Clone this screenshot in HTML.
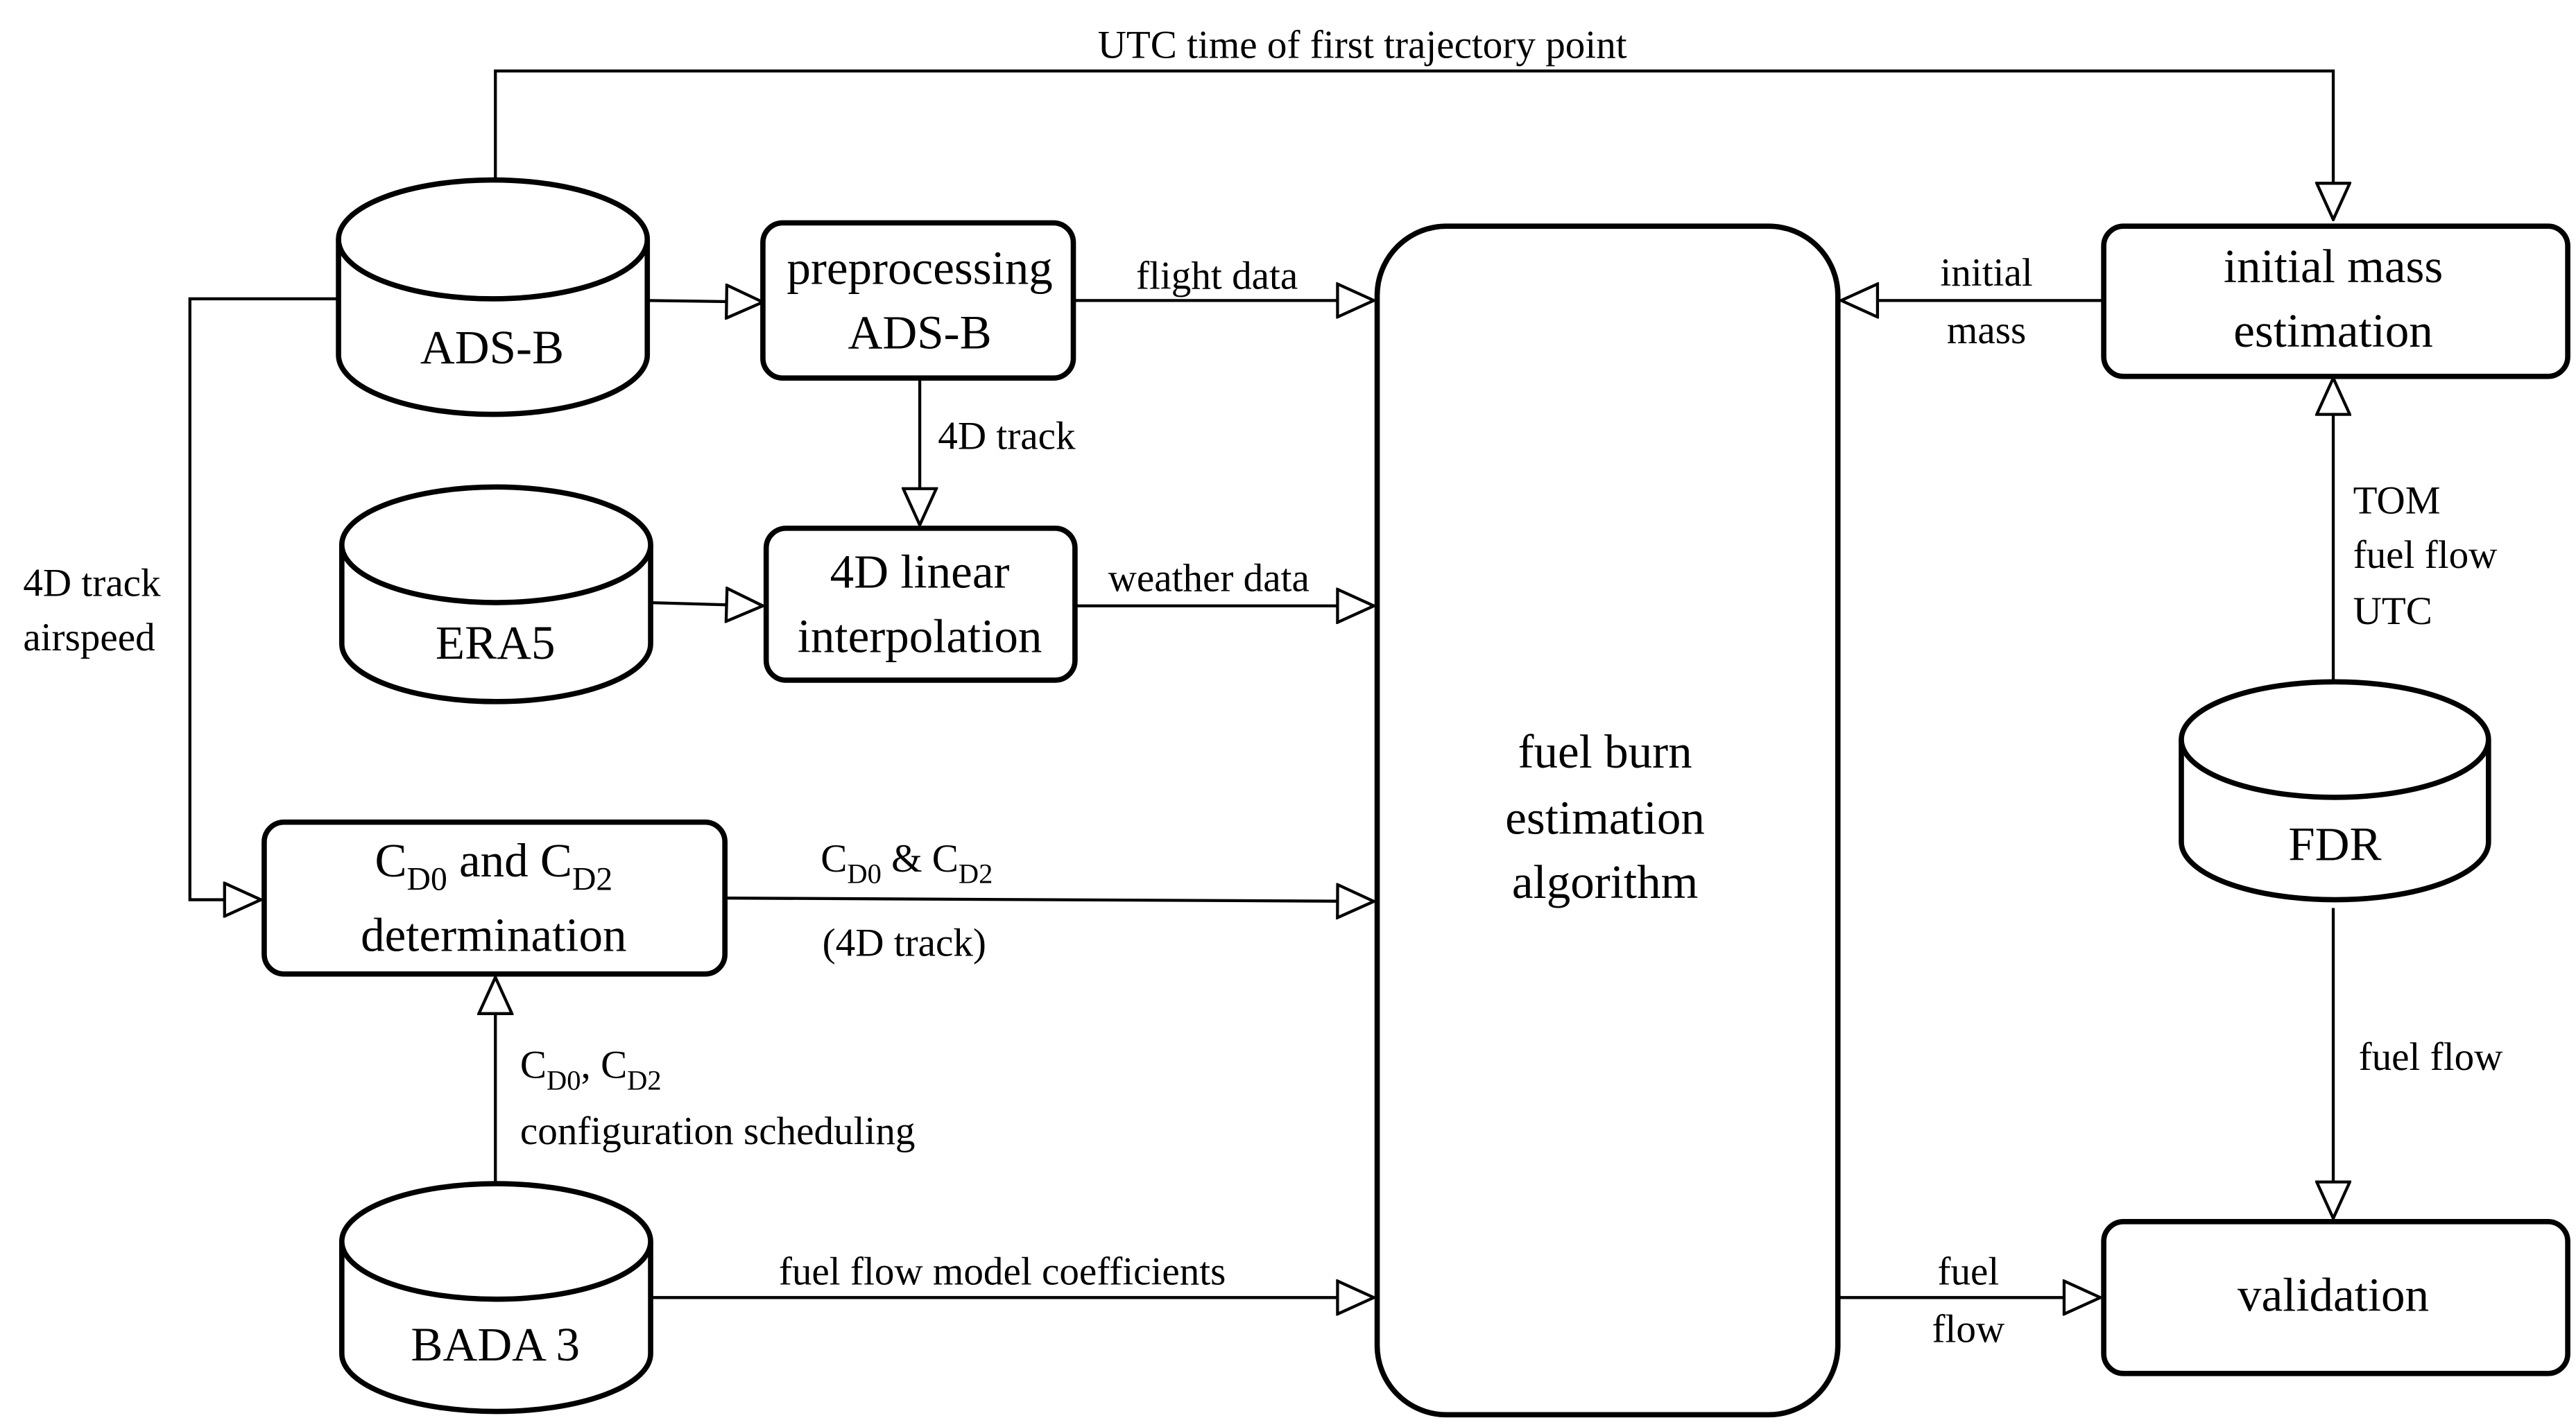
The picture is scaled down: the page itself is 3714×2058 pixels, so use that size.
<!DOCTYPE html>
<html><head><style>html,body{margin:0;padding:0;background:#fff}svg{display:block}svg text{font-family:"Liberation Serif","Times New Roman",serif}</style></head>
<body>
<svg width="3714" height="2058" viewBox="0 0 1560 864.4" xmlns="http://www.w3.org/2000/svg" style="font-family:'Liberation Serif',serif">
<defs>
<marker id="a" viewBox="0 0 24 22" refX="23" refY="11" markerWidth="24" markerHeight="22" markerUnits="userSpaceOnUse" orient="auto">
<path d="M1,1 L23,11 L1,21 Z" fill="#fff" stroke="#000" stroke-width="1.8"/>
</marker>
</defs>
<g fill="none" stroke="#000" stroke-width="1.8">
<path d="M300,108 V43 H1413 V133" marker-end="url(#a)"/>
<path d="M392,182 L462,183" marker-end="url(#a)"/>
<path d="M651,182 H832" marker-end="url(#a)"/>
<path d="M557,230 V318" marker-end="url(#a)"/>
<path d="M392,365 L462,367" marker-end="url(#a)"/>
<path d="M651,367 H832" marker-end="url(#a)"/>
<path d="M205,181 H115 V545 H158" marker-end="url(#a)"/>
<path d="M439,544 L832,546" marker-end="url(#a)"/>
<path d="M300,717 V592" marker-end="url(#a)"/>
<path d="M392,786 H832" marker-end="url(#a)"/>
<path d="M1274,182 H1115" marker-end="url(#a)"/>
<path d="M1413,412 V229" marker-end="url(#a)"/>
<path d="M1413,550 V738" marker-end="url(#a)"/>
<path d="M1113,786 H1272" marker-end="url(#a)"/>
</g>
<g fill="#fff" stroke="#000" stroke-width="3.2">
<rect x="462" y="135" width="188" height="94" rx="12"/>
<rect x="464" y="320" width="187" height="92" rx="12"/>
<rect x="160" y="498" width="279" height="92" rx="12"/>
<rect x="834" y="137" width="279" height="720" rx="42"/>
<rect x="1274" y="137" width="281" height="91" rx="12"/>
<rect x="1274" y="740" width="281" height="92" rx="12"/>
<path d="M205,145 V215 A93.5,36 0 0 0 392,215 V145"/><ellipse cx="298.5" cy="145" rx="93.5" ry="36"/>
<path d="M207,330 V390 A93.5,35 0 0 0 394,390 V330"/><ellipse cx="300.5" cy="330" rx="93.5" ry="35"/>
<path d="M207,752 V820 A93.5,35 0 0 0 394,820 V752"/><ellipse cx="300.5" cy="752" rx="93.5" ry="35"/>
<path d="M1321,448 V510 A93,35 0 0 0 1507,510 V448"/><ellipse cx="1414" cy="448" rx="93" ry="35"/>
</g>
<g font-size="29" text-anchor="middle" fill="#000">
<text x="298" y="220">ADS-B</text>
<text x="300" y="399">ERA5</text>
<text x="300" y="824">BADA 3</text>
<text x="1414" y="521">FDR</text>
<text x="557" y="172">preprocessing</text>
<text x="557" y="211">ADS-B</text>
<text x="557" y="356">4D linear</text>
<text x="557" y="395">interpolation</text>
<text x="299" y="531">C<tspan font-size="20" dy="8">D0</tspan><tspan dy="-8"> and C</tspan><tspan font-size="20" dy="8">D2</tspan></text>
<text x="299" y="576">determination</text>
<text x="972" y="465">fuel burn</text>
<text x="972" y="505">estimation</text>
<text x="972" y="544">algorithm</text>
<text x="1413" y="171">initial mass</text>
<text x="1413" y="210">estimation</text>
<text x="1413" y="794">validation</text>
</g>
<g font-size="24" fill="#000">
<text x="825" y="35" text-anchor="middle">UTC time of first trajectory point</text>
<text x="737" y="175" text-anchor="middle">flight data</text>
<text x="568" y="272">4D track</text>
<text x="732" y="358" text-anchor="middle">weather data</text>
<text x="14" y="361">4D track</text>
<text x="14" y="394">airspeed</text>
<text x="497" y="528">C<tspan font-size="17" dy="7">D0</tspan><tspan dy="-7"> &amp; C</tspan><tspan font-size="17" dy="7">D2</tspan></text>
<text x="498" y="579">(4D track)</text>
<text x="315" y="653">C<tspan font-size="17" dy="7">D0</tspan><tspan dy="-7">, C</tspan><tspan font-size="17" dy="7">D2</tspan></text>
<text x="315" y="693">configuration scheduling</text>
<text x="607" y="778" text-anchor="middle">fuel flow model coefficients</text>
<text x="1203" y="173" text-anchor="middle">initial</text>
<text x="1203" y="208" text-anchor="middle">mass</text>
<text x="1425" y="311">TOM</text>
<text x="1425" y="344">fuel flow</text>
<text x="1425" y="378">UTC</text>
<text x="1472" y="648" text-anchor="middle">fuel flow</text>
<text x="1192" y="778" text-anchor="middle">fuel</text>
<text x="1192" y="813" text-anchor="middle">flow</text>
</g>
</svg>
</body></html>
